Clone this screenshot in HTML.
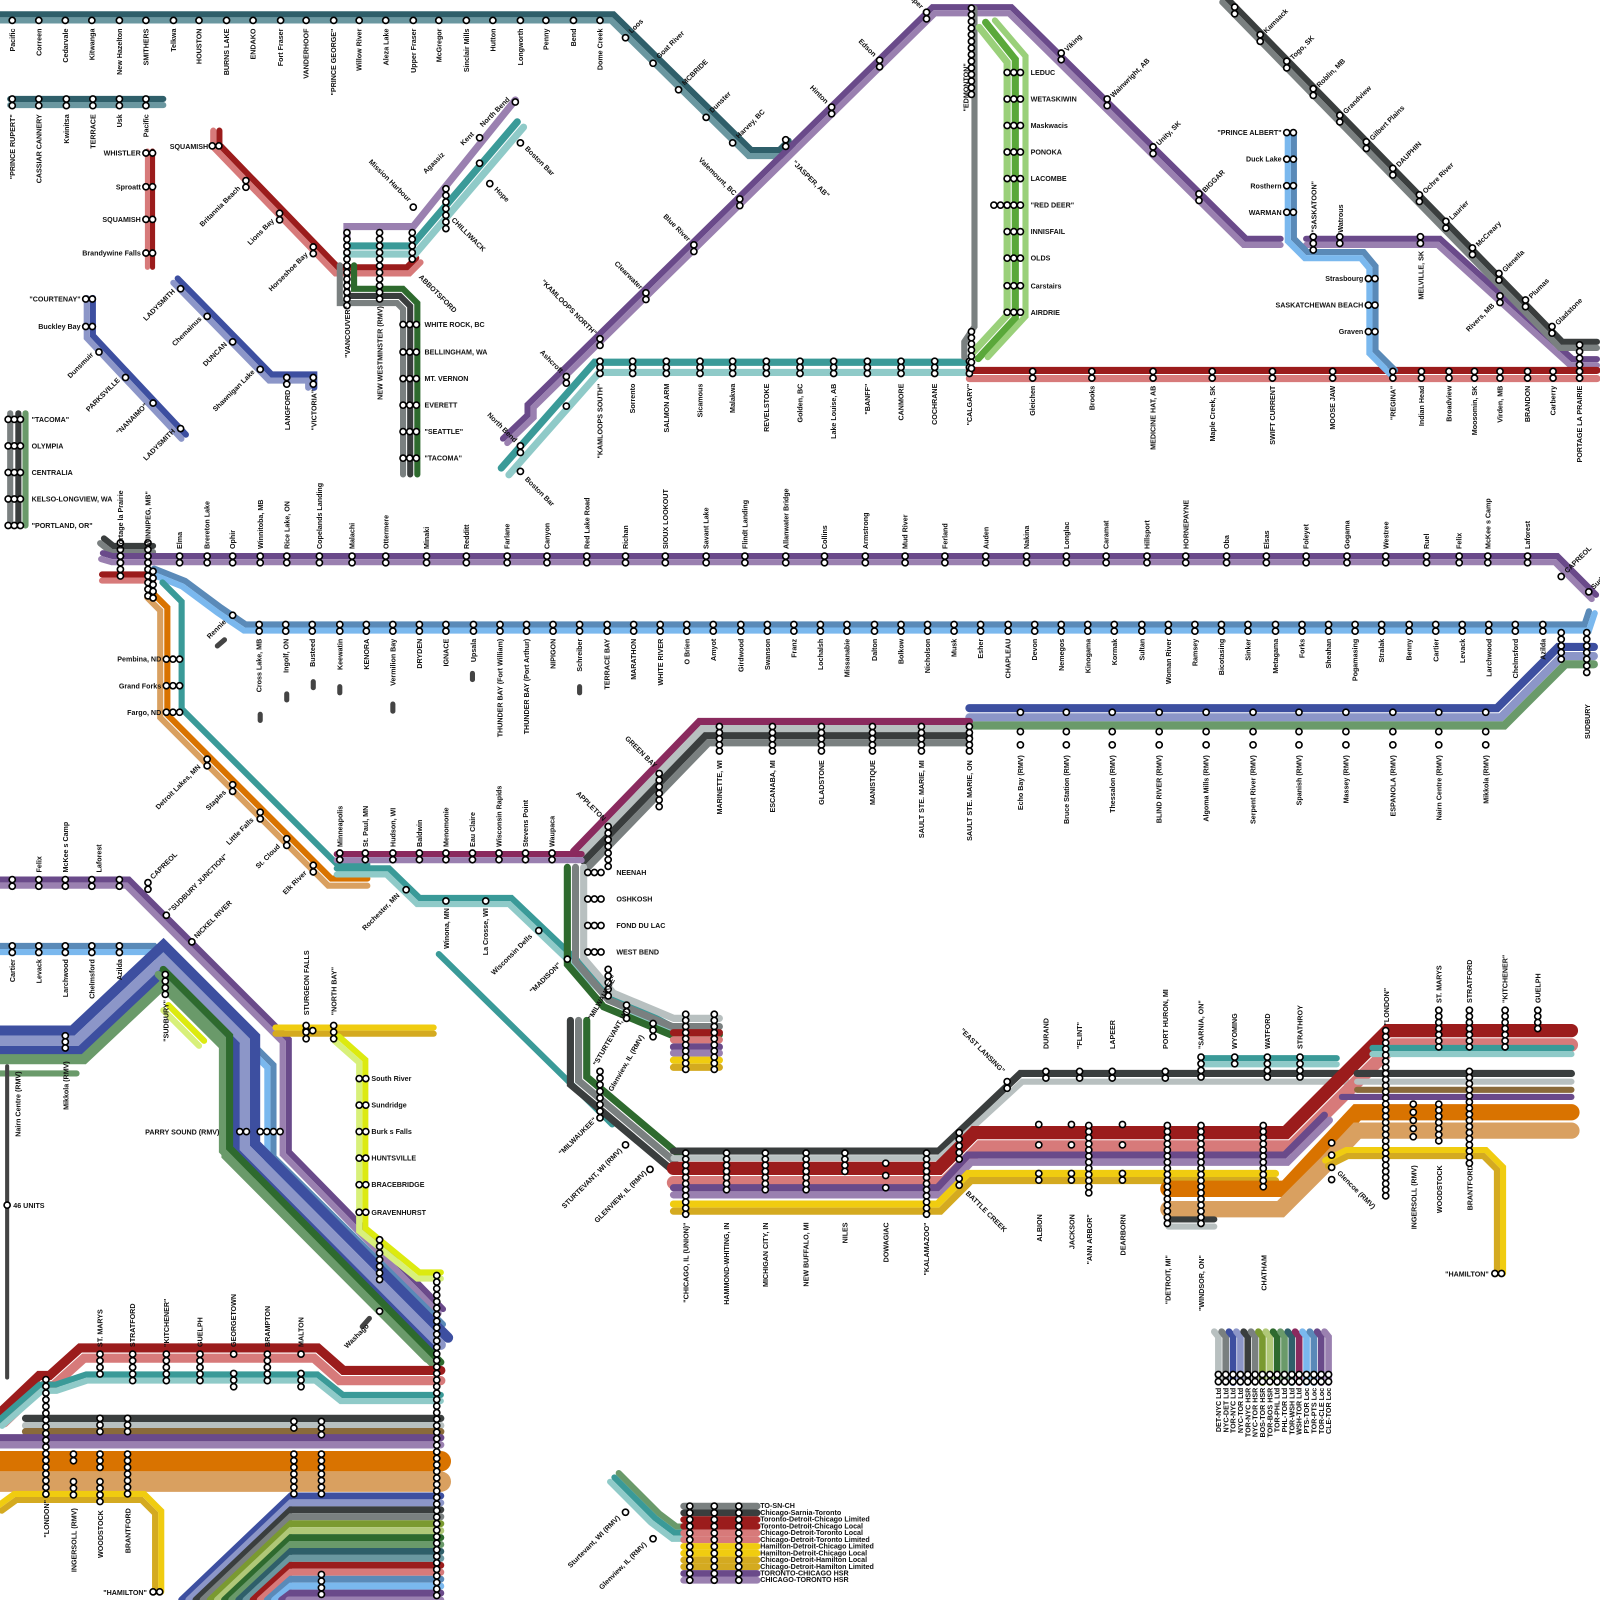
<!DOCTYPE html>
<html><head><meta charset="utf-8"><style>
html,body{margin:0;padding:0;background:#fff}
svg{display:block}
text{font-family:"Liberation Sans",sans-serif;font-weight:bold;font-size:7px;fill:#111}
</style></head><body>
<svg id="s" width="1600" height="1600" viewBox="0 0 1568 1568" xmlns="http://www.w3.org/2000/svg">
<g id="lines"></g><g id="sts"></g><g id="lbls"></g>
</svg>
<script>
const NS="http://www.w3.org/2000/svg";
const GL=document.getElementById('lines'),GS=document.getElementById('sts'),GT=document.getElementById('lbls');
const C={tl:'#3a9a98',ltl:'#8fcac8',red:'#9b1c1c',pk:'#d77a7a',pu:'#6a4a8a',lpu:'#9a80b0',dg:'#3a3e3e',gr:'#7a8080',lg:'#b8c0c0',dgn:'#2e6a2e',gn:'#6a9a6a',eg:'#5aa83a',leg:'#9ad07a',bl:'#3d4fa0',lav:'#8c96c8',lb:'#7ab8ee',sb:'#5a8ab8',or:'#d97300',tan:'#d9a060',ye:'#f0cc10',go:'#d4aa20',li:'#dcea10',lli:'#d8f07a',br:'#8a6a3a',sl:'#2f5f6a',sll:'#6a97a0',ma:'#8a2a5e',ol:'#7a9a30',lol:'#b0c878'};
function el(t,a,p){const e=document.createElementNS(NS,t);for(const k in a)e.setAttribute(k,a[k]);p.appendChild(e);return e;}
function nrm(u,v){const dx=v[0]-u[0],dy=v[1]-u[1],l=Math.hypot(dx,dy)||1;return[-dy/l,dx/l];}
function off(P,d){return P.map((p,i)=>{const a=P[i-1],b=P[i+1];let n;
 if(!a){n=nrm(p,b);return[p[0]+n[0]*d,p[1]+n[1]*d];}
 if(!b){n=nrm(a,p);return[p[0]+n[0]*d,p[1]+n[1]*d];}
 const n1=nrm(a,p),n2=nrm(p,b);const m=[n1[0]+n2[0],n1[1]+n2[1]];const k=m[0]*n1[0]+m[1]*n1[1]||1;
 return[p[0]+m[0]*d/k,p[1]+m[1]*d/k];});}
function line(P,c,w){el('polyline',{points:P.map(p=>p.join(',')).join(' '),fill:'none',stroke:c,'stroke-width':w,'stroke-linejoin':'miter','stroke-linecap':'round'},GL);}
function band(P,specs,w){specs.forEach(s=>line(off(P,s[1]),C[s[0]]||s[0],s[2]||w||6.5));}
function st(x,y){el('circle',{cx:x,cy:y,r:3,fill:'#fff',stroke:'#000','stroke-width':1.6},GS);}
function sv(x,y,n,d){d=d||6.5;for(let i=0;i<n;i++)st(x,y+i*d);}
function sh(x,y,n,d){d=d||6.5;for(let i=0;i<n;i++)st(x+i*d,y);}
function L(x,y,t,r,a){const e=el('text',{x:0,y:0,'text-anchor':a||'end',transform:`translate(${x},${y}) rotate(${r===undefined?-90:r})`},GT);e.textContent=t;}
function rowBelow(xs,names,y){xs.forEach((x,i)=>{if(names[i])L(x+2.5,y,names[i],-90,'end');});}
function rowAbove(xs,names,y){xs.forEach((x,i)=>{if(names[i])L(x+2.5,y,names[i],-90,'start');});}

// ===== TOP: Prince George line
band([[0,17],[600,17],[735,150],[765,150],[775,140]],[['sl',-3],['sll',3]],6);
let tx=[12,38,64,90,117,143,170,195,222,248,275,300,327,352,378,405,430,457,483,510,535,562,588];
let tn=['Pacific','Correen','Cedarvale','Kitwanga','New Hazelton','SMITHERS','Telkwa','HOUSTON','BURNS LAKE','ENDAKO','Fort Fraser','VANDERHOOF','"PRINCE GEORGE"','Willow River','Aleza Lake','Upper Fraser','McGregor','Sinclair Mills','Hutton','Longworth','Penny','Bend','Dome Creek'];
tx.forEach(x=>st(x,20));rowBelow(tx,tn,28);
[[613,37,'Loos'],[640,62,'Goat River'],[665,88,'MCBRIDE'],[692,115,'Dunster'],[718,140,'Harvey, BC']].forEach(a=>{st(a[0],a[1]);L(a[0]+6,a[1]-4,a[2],-45,'start');});
sv(770,137,2);L(776,160,'"JASPER, AB"',45,'start');
// Rupert
band([[10,97],[160,97]],[['sl',0],['sll',6]],6);
let rx=[12,38,65,91,117,143];rx.forEach(x=>sv(x,97,2));
rowBelow(rx,['"PRINCE RUPERT"','CASSIAR CANNERY','Kwinitsa','TERRACE','Usk','Pacific'],112);
// Whistler
band([[147,148],[147,262]],[['red',-2.5],['pk',2.5]],5);
[[150,'WHISTLER'],[183,'Sproatt'],[215,'SQUAMISH'],[248,'Brandywine Falls']].forEach(a=>{sh(143,a[0],2);L(138,a[0]+2.5,a[1],0,'end');});
// Squamish
band([[212,128],[212,143],[330,265],[400,265],[410,255]],[['red',-3],['pk',3]],6);
sh(208,143,2);L(204,146,'SQUAMISH',0,'end');
[[241,180,'Britannia Beach'],[274,212,'Lions Bay'],[307,245,'Horseshoe Bay']].forEach(a=>{sv(a[0],a[1]-3,2);L(a[0]-5,a[1]+5,a[2],-45,'end');});
// Vancouver cluster
band([[340,232],[340,222],[405,222],[505,98]],[['lpu',0]],7);
band([[340,245],[405,245],[510,122]],[['tl',-4],['ltl',4]],7);
band([[340,260],[340,290],[392,290],[402,300],[402,465]],[['dgn',-7],['dg',0],['gr',7]],6);
sv(340,228,12);sv(372,228,11);sv(404,228,5);
sv(437,185,7);
[[470,135],[505,100],[470,160],[405,203],[480,180],[510,140]].forEach(a=>st(a[0],a[1]));
L(465,132,'Kent',-45,'end');L(500,98,'North Bend',-45,'end');L(436,152,'Agassiz',-45,'end');L(400,198,'Mission Harbour',45,'end');
L(484,186,'Hope',45,'start');L(514,146,'Boston Bar',45,'start');L(442,216,'CHILLIWACK',45,'start');L(410,272,'ABBOTSFORD',45,'start');
L(343,300,'"VANCOUVER"',-90,'end');L(375,300,'NEW WESTMINSTER (RMV)',-90,'end');
[[318,'WHITE ROCK, BC'],[345,'BELLINGHAM, WA'],[371,'MT. VERNON'],[397,'EVERETT'],[423,'"SEATTLE"'],[449,'"TACOMA"']].forEach(a=>{sh(395,a[0],3);L(416,a[0]+2.5,a[1],0,'start');});
// Vancouver Island
band([[172,275],[265,370],[305,370],[305,380]],[['bl',-3],['lav',3]],6);
[[177,283,'LADYSMITH'],[203,310,'Chemainus'],[228,335,'DUNCAN'],[255,362,'Shawnigan Lake']].forEach(a=>{st(a[0],a[1]);L(a[0]-5,a[1]+3,a[2],-45,'end');});
sv(281,370,2);sv(307,370,2);L(284,382,'LANGFORD');L(310,382,'"VICTORIA"');
band([[88,292],[88,330],[180,428]],[['bl',-3],['lav',3]],6);
[[293,'"COURTENAY"'],[320,'Buckley Bay']].forEach(a=>{sh(84,a[0],2);L(79,a[0]+2.5,a[1],0,'end');});
[[97,345,'Dunsmuir'],[123,370,'PARKSVILLE'],[150,395,'"NANAIMO"'],[177,420,'LADYSMITH']].forEach(a=>{st(a[0],a[1]);L(a[0]-5,a[1]+3,a[2],-45,'end');});
// Cascades left
band([[10,405],[10,515]],[['gr',0]],6);band([[18,405],[18,515]],[['dg',0]],6);band([[25,405],[25,515]],[['gn',0]],6);
[[411,'"TACOMA"'],[437,'OLYMPIA'],[463,'CENTRALIA'],[489,'KELSO-LONGVIEW, WA'],[515,'"PORTLAND, OR"']].forEach(a=>{sh(8,a[0],3,6);L(31,a[0]+2.5,a[1],0,'start');});
// Canadian purple
band([[495,432],[520,408],[520,398],[915,10],[990,10],[1220,237],[1255,237]],[['pu',-3],['lpu',3]],6);
band([[1280,237],[1410,237],[1540,355],[1565,355]],[['pu',-3],['lpu',3]],6);
[[908,15,'Jasper'],[862,62,'Edson'],[815,108,'Hinton'],[725,198,'Valemount, BC'],[680,243,'Blue River'],[633,290,'Clearwater'],[588,335,'"KAMLOOPS NORTH"'],[555,372,'Ashcroft'],[510,440,'North Bend']].forEach(a=>{sv(a[0],a[1]-3,2);L(a[0]-6,a[1]-6,a[2],45,'end');});
[[1040,55,'Viking'],[1085,100,'Wainwright, AB'],[1130,147,'Unity, SK'],[1175,193,'BIGGAR']].forEach(a=>{sv(a[0],a[1]-3,2);L(a[0]+6,a[1]-4,a[2],-45,'start');});
sv(1287,232,3);L(1290,228,'"SASKATOON"',-90,'start');sv(1313,232,2);L(1316,228,'Watrous',-90,'start');
sv(1392,232,2);L(1395,246,'MELVILLE, SK');sv(1470,290,2);L(1465,300,'Rivers, MB',-45,'end');
// teal Kamloops
band([[495,462],[585,360],[950,360]],[['tl',-5],['ltl',5]],7);
let kx=[588,620,653,686,718,751,784,817,850,883,916,950];
kx.forEach(x=>sv(x,354,3,6));
rowBelow(kx,['"KAMLOOPS SOUTH"','Sorrento','SALMON ARM','Sicamous','Malakwa','REVELSTOKE','Golden, BC','Lake Louise, AB','"BANFF"','CANMORE','COCHRANE','"CALGARY"'],376);
st(510,462);L(514,470,'Boston Bar',45,'start');st(555,398);
// Edmonton
band([[955,8],[955,320],[945,335],[945,350]],[['gr',0]],6);
band([[962,25],[990,60],[990,310],[955,348]],[['eg',-5],['leg',3]],7);
band([[975,20],[1005,55],[1005,310],[968,350]],[['leg',0]],6);
sv(952,8,14);L(949,62,'"EDMONTON"',-90,'end');
[[71,'LEDUC'],[97,'WETASKIWIN'],[123,'Maskwacis'],[149,'PONOKA'],[175,'LACOMBE'],[201,'"RED DEER"'],[227,'INNISFAIL'],[253,'OLDS'],[280,'Carstairs'],[306,'AIRDRIE']].forEach(a=>{sh(987,a[0],3,6.5);L(1010,a[0]+2.5,a[1],0,'start');});
sh(974,201,3);
sv(952,325,7,6);
// red prairie
band([[950,367],[1565,367]],[['red',-4],['pk',4]],7);
let px=[1012,1070,1130,1188,1247,1306,1365,1393,1420,1445,1470,1497,1522,1548];
px.forEach(x=>sv(x,364,2));
rowBelow(px,['Gleichen','Brooks','MEDICINE HAT, AB','Maple Creek, SK','SWIFT CURRENT','MOOSE JAW','"REGINA"','Indian Head','Broadview','Moosomin, SK','Virden, MB','BRANDON','Carberry','PORTAGE LA PRAIRIE'],378);
sv(1548,338,6);
// Saskatoon
band([[1265,130],[1265,235],[1280,250],[1335,250],[1345,262],[1345,345],[1365,365]],[['sb',-3],['lb',3]],6);
[[130,'"PRINCE ALBERT"'],[156,'Duck Lake'],[182,'Rosthern'],[208,'WARMAN']].forEach(a=>{sh(1261,a[0],2);L(1256,a[0]+2.5,a[1],0,'end');});
[[273,'Strasbourg'],[299,'SASKATCHEWAN BEACH'],[325,'Graven']].forEach(a=>{sh(1341,a[0],2);L(1336,a[0]+2.5,a[1],0,'end');});
// dark diagonal
band([[1200,0],[1530,338],[1565,338]],[['dg',-3],['gr',3]],6);
[[1210,10,''],[1235,37,'Kamsack'],[1261,63,'Togo, SK'],[1287,90,'Roblin, MB'],[1313,116,'Grandview'],[1339,142,'Gilbert Plains'],[1365,168,'DAUPHIN'],[1391,194,'Ochre River'],[1417,220,'Laurier'],[1443,246,'McCreary'],[1469,271,'Glenella'],[1495,297,'Plumas'],[1521,323,'Gladstone']].forEach(a=>{sv(a[0],a[1]-3,2);if(a[2])L(a[0]+6,a[1]-4,a[2],-45,'start');});

// ===== MIDDLE
band([[100,530],[110,538],[150,538]],[['dg',-3],['gr',3]],6);
band([[100,563],[150,563]],[['red',0],['pk',6]],6);
band([[100,545],[110,548],[1525,548],[1562,585]],[['pu',-3],['lpu',3]],6);
let ux=[118,145,176,203,228,255,281,313,345,378,418,457,497,536,575,613,652,692,730,770,808,848,887,926,966,1006,1045,1084,1124,1162,1202,1241,1280,1320,1358,1398,1430,1458,1497];
let un=['Portage la Prairie','"WINNIPEG, MB"','Elma','Brereton Lake','Ophir','Winnitoba, MB','Rice Lake, ON','Copelands Landing','Malachi','Ottermere','Minaki','Redditt','Farlane','Canyon','Red Lake Road','Richan','SIOUX LOOKOUT','Savant Lake','Flindt Landing','Allanwater Bridge','Collins','Armstrong','Mud River','Ferland','Auden','Nakina','Longlac','Caramat','Hillsport','HORNEPAYNE','Oba','Elsas','Foleyet','Gogama','Westree','Ruel','Felix','McKee s Camp','Laforest'];
ux.forEach(x=>sv(x,545,2));rowAbove(ux,un,538);
sv(118,532,6);sv(145,532,9);sv(150,560,5);
st(1530,565);L(1536,562,'CAPREOL',-45,'start');st(1557,580);L(1562,578,'Sudbury',-45,'start');
// light blue
band([[150,560],[180,572],[215,598],[240,615],[1555,615],[1560,600]],[['sb',-3],['lb',3]],6);
let bx=[];for(let x=254;x<=1530;x+=26.2)bx.push(Math.round(x));
let bn=['Cross Lake, MB','Ingolf, ON','Busteed','Keewatin','KENORA','Vermilion Bay','DRYDEN','IGNACE','Upsala','THUNDER BAY (Fort William)','THUNDER BAY (Port Arthur)','NIPIGON','Schreiber','TERRACE BAY','MARATHON','WHITE RIVER','O Brien','Amyot','Girdwood','Swanson','Franz','Lochalsh','Missanabie','Dalton','Bolkow','Nicholson','Musk','Esher','CHAPLEAU','Devon','Nemegos','Kinogama','Kormak','Sultan','Woman River','Ramsey','Bicotasing','Sinker','Metagama','Forks','Sheahan','Pogamasing','Stralak','Benny','Cartier','Levack','Larchwood','Chelmsford','Azilda','SUDBURY'];
bx.forEach(x=>sv(x,612,2));rowBelow(bx,bn,626);
st(228,603);L(222,610,'Rennie',-45,'end');
[[213,633,220,627],[255,700,255,706],[281,680,281,686],[307,668,307,674],[333,673,333,679],[385,690,385,697],[463,660,463,666],[568,673,568,679]].forEach(a=>line([[a[0],a[1]],[a[2],a[3]]],'#444',5));
// blue band to Sudbury
band([[950,701],[1470,701],[1530,641],[1562,641]],[['bl',-7],['lav',2],['gn',10]],8);
sv(1530,620,5);sv(1555,620,7);L(1558,690,'SUDBURY');
let ex=[1000,1045,1090,1136,1182,1228,1273,1319,1365,1410,1456];
ex.forEach(x=>{st(x,698);st(x,717);st(x,730);});
rowBelow(ex,['Echo Bay (RMV)','Bruce Station (RMV)','Thessalon (RMV)','BLIND RIVER (RMV)','Algoma Mills (RMV)','Serpent River (RMV)','Spanish (RMV)','Massey (RMV)','ESPANOLA (RMV)','Nairn Centre (RMV)','Mikkola (RMV)'],740);
// Michigan upper
band([[570,842],[690,718],[950,718]],[['ma',-11],['lg',-4],['dg',3],['gr',10]],7);
let mx=[705,757,805,855,903,950];
mx.forEach(x=>sv(x,712,5,6));
rowBelow(mx,['MARINETTE, WI','ESCANABA, MI','GLADSTONE','MANISTIQUE','SAULT STE. MARIE, MI','SAULT STE. MARIE, ON'],745);
sv(646,758,6);L(641,753,'GREEN BAY',45,'end');sv(596,810,7);L(591,805,'APPLETON',45,'end');
// Winnipeg south
band([[150,580],[165,595],[165,700],[325,860],[360,860]],[['tan',8],['or',1],['tl',-13]],6);
[[646,'Pembina, ND'],[672,'Grand Forks'],[698,'Fargo, ND']].forEach(a=>{sh(163,a[0],3);L(158,a[0]+2.5,a[1],0,'end');});
[[203,748,'Detroit Lakes, MN'],[228,773,'Staples'],[255,800,'Little Falls'],[281,826,'St. Cloud'],[307,852,'Elk River']].forEach(a=>{sv(a[0],a[1]-4,2);L(a[0]-6,a[1]+4,a[2],-45,'end');});
band([[330,838],[570,838]],[['ma',-1],['lpu',5]],6);
let sx=[333,358,385,411,437,463,489,515,541];
sx.forEach(x=>sv(x,836,2));
rowAbove(sx,['Minneapolis','St. Paul, MN','Hudson, WI','Baldwin','Menomonie','Eau Claire','Wisconsin Rapids','Stevens Point','Waupaca'],830);
band([[330,854],[380,854],[410,883],[500,883],[600,978],[660,1010]],[['tl',-3],['ltl',3]],6);
st(398,872);L(392,878,'Rochester, MN',-45,'end');st(437,883);L(440,890,'Winona, MN');st(476,883);L(478,890,'La Crosse, WI');
st(528,912);L(522,918,'Wisconsin Dells',-45,'end');st(556,940);L(550,946,'"MADISON"',-45,'end');
band([[430,935],[590,1092],[600,1102]],[['tl',0]],6);
// Neenah column
band([[570,850],[570,940],[600,975],[660,1000],[705,1000]],[['dgn',14],['gr',6],['lg',-2]],7);
[[855,'NEENAH'],[881,'OSHKOSH'],[907,'FOND DU LAC'],[933,'WEST BEND']].forEach(a=>{sh(576,a[0],3);L(604,a[0]+2.5,a[1],0,'start');});
band([[660,1012],[705,1012]],[['red',0],['pk',7],['pu',14],['lpu',20],['ye',27],['go',34]],7);
sv(672,994,10,6);sv(700,994,10,6);sv(596,950,5);sv(614,985,3);sv(640,1003,3);
// Milwaukee column
band([[565,1000],[565,1060],[660,1140]],[['dgn',-10],['gr',-2],['dg',6]],7);
sv(588,1050,8);L(580,1000,'"MILWAUKEE"',-60,'start');L(585,1045,'"STURTEVANT, WI"',-60,'start');L(600,1070,'Glenview, IL (RMV)',-60,'start');
L(585,1098,'"MILWAUKEE"',-45,'end');L(610,1128,'STURTEVANT, WI (RMV)',-45,'end');L(634,1150,'GLENVIEW, IL (RMV)',-45,'end');
st(613,1122);st(637,1146);
// Chicago bands
band([[660,1128],[920,1128],[1000,1052],[1320,1052]],[['dg',0]],7);
band([[660,1135],[920,1135],[1002,1060],[1320,1060]],[['lg',0]],6);
band([[660,1145],[920,1145],[955,1110],[1260,1110],[1360,1010],[1540,1010]],[['red',0],['pk',14]],13);
band([[660,1167],[920,1167],[950,1135],[1260,1135],[1300,1095]],[['pu',-3],['lpu',4]],7);
band([[660,1183],[920,1183],[950,1153],[1250,1153]],[['ye',-3],['go',4]],7);
band([[1145,1165],[1260,1165],[1330,1090],[1540,1090]],[['or',0]],16);
band([[1145,1185],[1255,1185],[1300,1140],[1330,1108],[1540,1108]],[['tan',0]],16);
band([[1300,1140],[1320,1130],[1455,1130],[1470,1145],[1470,1248]],[['ye',-3],['go',3]],6);
band([[1180,1040],[1310,1040]],[['tl',-3],['ltl',3]],6);
band([[1345,1030],[1540,1030]],[['tl',-3],['ltl',3]],6);
band([[1330,1052],[1540,1052]],[['dg',0]],7);band([[1330,1060],[1540,1060]],[['lg',0]],6);
band([[1330,1068],[1540,1068]],[['br',0]],6);band([[1315,1075],[1540,1075]],[['pu',0]],6);
band([[1145,1195],[1190,1195]],[['dg',0],['lg',7]],6);
sv(672,1130,11,6);sv(712,1130,7,6);sv(750,1130,7,6);sv(790,1130,7,6);sv(828,1130,4,6);sv(868,1140,3,12);sv(908,1130,11,6);
rowBelow([672,712,750,790,828,868,908],['"CHICAGO, IL (UNION)"','HAMMOND-WHITING, IN','MICHIGAN CITY, IN','NEW BUFFALO, MI','NILES','DOWAGIAC','"KALAMAZOO"'],1198);
sv(940,1110,5);sv(940,1155,2);L(946,1170,'BATTLE CREEK',45,'start');
sv(987,1060,2);L(982,1052,'"EAST LANSING"',45,'end');
sv(1018,1102,2,20);sv(1050,1102,2,20);sv(1100,1102,2,20);
sv(1018,1150,2);sv(1050,1150,2);sv(1100,1150,2);sv(1067,1103,12,6);sv(1144,1103,17,6);sv(1177,1103,17,6);sv(1238,1103,11,6);
L(1021,1190,'ALBION');L(1053,1190,'JACKSON');L(1070,1190,'"ANN ARBOR"');L(1103,1190,'DEARBORN');L(1147,1230,'"DETROIT, MI"');L(1180,1230,'"WINDSOR, ON"');L(1241,1230,'CHATHAM');
sv(1025,1050,2);sv(1058,1050,2);sv(1090,1050,2);sv(1142,1050,2);sv(1177,1036,4);sv(1210,1036,2);sv(1242,1036,4);sv(1274,1036,4);
rowAbove([1025,1058,1090,1142,1177,1210,1242,1274],['DURAND','"FLINT"','LAPEER','PORT HURON, MI','"SARNIA, ON"','WYOMING','WATFORD','STRATHROY'],1028);
sv(1305,1120,4,12);L(1310,1150,'Glencoe (RMV)',45,'start');
sv(1358,1010,28,6);L(1361,1005,'"LONDON"',-90,'start');
sv(1410,990,7,6);sv(1385,1082,5,8);sv(1410,1082,7,6);sv(1440,1050,16,6);sv(1440,990,7,6);sv(1475,990,7,6);sv(1507,990,4,6);
rowAbove([1410,1440,1475,1507],['ST. MARYS','STRATFORD','"KITCHENER"','GUELPH'],983);
L(1388,1142,'INGERSOLL (RMV)');L(1413,1142,'WOODSTOCK');L(1443,1142,'BRANTFORD');
sh(1465,1248,2);L(1459,1251,'"HAMILTON"',0,'end');

// ===== BOTTOM LEFT
band([[0,865],[125,865],[280,1020],[280,1130],[432,1285]],[['pu',-3],['lpu',3]],6);
band([[0,930],[150,930],[265,1045],[265,1135],[432,1300]],[['sb',-3],['lb',3]],6);
band([[0,1020],[75,1020],[160,940],[240,1020],[240,1125],[432,1318]],[['bl',-10],['lav',0],['bl',10],['gn',18]],10);
band([[160,950],[225,1015],[225,1125],[432,1335]],[['dgn',0],['gn',7]],7);
band([[165,985],[185,1005],[200,1020]],[['li',0],['lli',7]],6);
band([[270,1010],[425,1010]],[['ye',-3],['go',3]],6);
band([[330,1018],[355,1040],[355,1205],[410,1250],[432,1250]],[['li',-3],['lli',3]],6);
band([[0,1052],[75,1052]],[['gn',0]],6);
[12,38,64,90,117].forEach(x=>sv(x,927,2));rowBelow([12,38,64,90,117],['Cartier','Levack','Larchwood','Chelmsford','Azilda'],940);
[12,38,64,90,117].forEach(x=>sv(x,862,2));rowAbove([38,64,97],['Felix','McKee s Camp','Laforest'],855);
sv(64,1015,3,6);sv(145,865,2);L(150,862,'CAPREOL',-45,'start');sv(163,897,1);L(168,895,'"SUDBURY JUNCTION"',-45,'start');
st(188,923);L(193,920,'NICKEL RIVER',-45,'start');sv(162,955,4);L(165,980,'"SUDBURY"');L(67,1040,'Mikkola (RMV)');L(20,1050,'Nairn Centre (RMV)');
sh(300,1010,2);sv(300,1005,3);sv(327,1005,3);L(303,995,'STURGEON FALLS',-90,'start');L(330,995,'"NORTH BAY"',-90,'start');
[[1057,'South River'],[1083,'Sundridge'],[1109,'Burk s Falls'],[1135,'HUNTSVILLE'],[1161,'BRACEBRIDGE'],[1188,'GRAVENHURST']].forEach(a=>{sh(352,a[0],2);L(364,a[0]+2.5,a[1],0,'start');});
sh(235,1109,2);sh(255,1109,4);L(215,1112,'PARRY SOUND (RMV)',0,'end');
sv(372,1215,7);sv(372,1285,1);line([[355,1300],[362,1292]],'#444',5);L(362,1300,'Washago',-45,'end');
line([[7,1045],[7,1350]],'#444',4);st(7,1181);L(13,1184,'46 UNITS',0,'start');
// Toronto region
band([[0,1390],[40,1352],[50,1352],[80,1325],[310,1325],[335,1347],[432,1347]],[['red',-4],['pk',6]],9);
band([[0,1395],[40,1360],[55,1360],[85,1350],[310,1350],[335,1370],[432,1370]],[['tl',-3],['ltl',3]],6);
band([[25,1393],[432,1393]],[['dg',-3],['lg',4],['br',10]],7);
band([[0,1412],[432,1412]],[['pu',-3],['lpu',4]],7);
band([[0,1432],[432,1432]],[['or',0]],20);band([[0,1452],[432,1452]],[['tan',0]],20);
band([[0,1478],[15,1467],[140,1467],[155,1482],[155,1560]],[['ye',-3],['go',3]],6);
let bundle=['bl','lav','dg','gr','ol','lol','dgn','gn','sl','sll','red','pk','sb','lb','pu','lpu'];
bundle.forEach((c,i)=>band([[178+i*7,1568],[285,1466+i*6.8],[432,1466+i*6.8]],[[c,0]],6.8));
sv(45,1352,18,6.6);sv(72,1425,2);sv(72,1452,3);sv(98,1390,3);sv(98,1425,3);sv(98,1452,4);sv(125,1390,3);sv(125,1425,7);
sv(98,1327,4,6.5);sv(130,1327,5);sv(163,1327,5);sv(196,1327,5);sv(229,1327,1);sv(229,1346,3);sv(262,1327,5);sv(295,1327,1);sv(295,1346,3);
sv(288,1393,2);sv(288,1425,7);sv(315,1393,3);sv(315,1425,7);sv(315,1543,4);
sv(428,1250,50,6.4);
rowAbove([98,130,163,196,229,262,295],['ST. MARYS','STRATFORD','"KITCHENER"','GUELPH','GEORGETOWN','BRAMPTON','MALTON'],1320);
L(48,1470,'"LONDON"');L(75,1478,'INGERSOLL (RMV)');L(101,1480,'WOODSTOCK');L(128,1478,'BRANTFORD');
sh(150,1560,2);L(144,1563,'"HAMILTON"',0,'end');L(318,1568,'Aldershot');L(431,1568,'"TORONTO (UNION)"');
// bottom legend
band([[600,1450],[640,1490],[660,1505],[670,1505]],[['gn',-9],['tl',-3],['ltl',3]],6);
st(613,1482);L(608,1488,'Sturtevant, WI (RMV)',-45,'end');st(640,1508);L(634,1514,'Glenview, IL (RMV)',-45,'end');
let lg=[['gr','TO-SN-CH'],['dg','Chicago-Sarnia-Toronto'],['red','Toronto-Detroit-Chicago Limited'],['red','Toronto-Detroit-Chicago Local'],['pk','Chicago-Detroit-Toronto Local'],['pk','Chicago-Detroit-Toronto Limited'],['ye','Hamilton-Detroit-Chicago Limited'],['ye','Hamilton-Detroit-Chicago Local'],['go','Chicago-Detroit-Hamilton Local'],['go','Chicago-Detroit-Hamilton Limited'],['pu','TORONTO-CHICAGO HSR'],['lpu','CHICAGO-TORONTO HSR']];
lg.forEach((a,i)=>{band([[670,1476+i*6.6],[742,1476+i*6.6]],[[a[0],0]],6.6);L(745,1478+i*6.6,a[1],0,'start');});
sv(676,1476,12,6.6);sv(700,1476,12,6.6);sv(724,1476,12,6.6);
L(678,1568,'"CHICAGO');L(702,1568,'RMV)');L(726,1568,'RMV)');
// right legend
let rl=[['lg','DET-NYC Ltd'],['gr','NYC-DET Ltd'],['bl','TOR-NYC Ltd'],['lav','NYC-TOR Ltd'],['dg','TOR-NYC HSR'],['gr','NYC-TOR HSR'],['ol','BOS-TOR HSR'],['lol','TOR-BOS HSR'],['dgn','TOR-PHL Ltd'],['gn','PHL-TOR Ltd'],['sl','TOR-WSH Ltd'],['ma','WSH-TOR Ltd'],['lb','PTS-TOR Loc'],['sb','TOR-PTS Loc'],['pu','TOR-CLE Loc'],['lpu','CLE-TOR Loc']];
rl.forEach((a,i)=>{const x=1194+i*7.2;band([[x-4,1305],[x,1310],[x,1355]],[[a[0],0]],6.5);st(x,1347);st(x,1354);L(x+2.5,1360,a[1]);});
</script>
</body></html>
